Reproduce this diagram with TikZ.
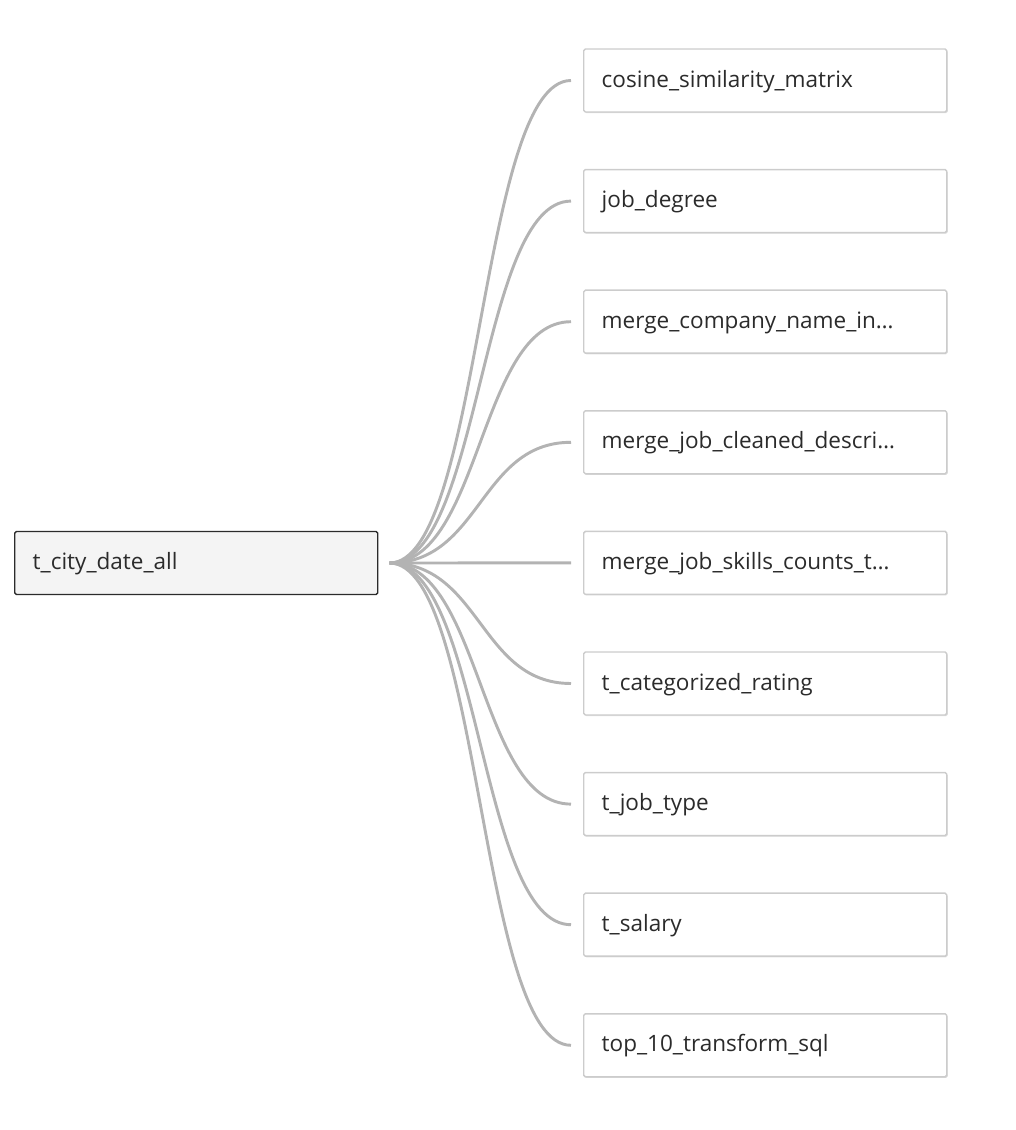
\documentclass[tikz,border=0pt]{standalone}
\usepackage{fontspec}
\setmainfont{Open Sans}
\usepackage{xcolor}
\usetikzlibrary{math,calc,shadows}

\definecolor{linkgray}{HTML}{B3B3B3}
\definecolor{boxgray}{HTML}{CCCCCC}
\definecolor{textgray}{HTML}{2B2B2B}
\definecolor{srcfill}{HTML}{F4F4F4}

\tikzset{
  tbl/.style={rectangle, rounded corners=1.2pt, align=left, anchor=west,
    text width=245.25pt, inner xsep=13.5pt, minimum height=47.25pt,
    text height=13.5pt, text depth=3.7pt,
    text=textgray, font=\fontsize{16.9}{19}\selectfont},
  srcbox/.style={tbl, draw=textgray, line width=1.1pt, fill=srcfill},
  dstbox/.style={tbl, draw=boxgray, line width=1.1pt, fill=white,
    drop shadow={shadow xshift=0.8pt, shadow yshift=-0.8pt, fill=black!12, opacity=1}},
  link/.style={draw=linkgray, line width=2.2pt}
}

\begin{document}
\begin{tikzpicture}[x=0.75pt,y=-0.75pt]

\tikzmath{
\first = 80.5;
\gap = 120.6;
\bend = 91.5;
}

\useasboundingbox (0,0) rectangle (1015,1130);

\node[srcbox] (src) at (14,563) {t\_city\_date\_all};
\coordinate (hub) at ([xshift=8.25pt]src.east);

\foreach \name [count=\i from 0] in {{cosine\_similarity\_matrix}, {job\_degree},
    {merge\_company\_name\_in\dots}, {merge\_job\_cleaned\_descri\dots},
    {merge\_job\_skills\_counts\_t\dots}, {t\_categorized\_rating}, {t\_job\_type},
    {t\_salary}, {top\_10\_transform\_sql}}
{
   \node[dstbox] (t\i) at (583, \first + \i * \gap) {\name};
   \coordinate (e\i) at ([xshift=-9pt]t\i.west);
   \draw[link] (hub) .. controls ($(hub)+(\bend,0)$) and ($(e\i)+(-\bend,0)$) .. (e\i);
}

\end{tikzpicture}
\end{document}
